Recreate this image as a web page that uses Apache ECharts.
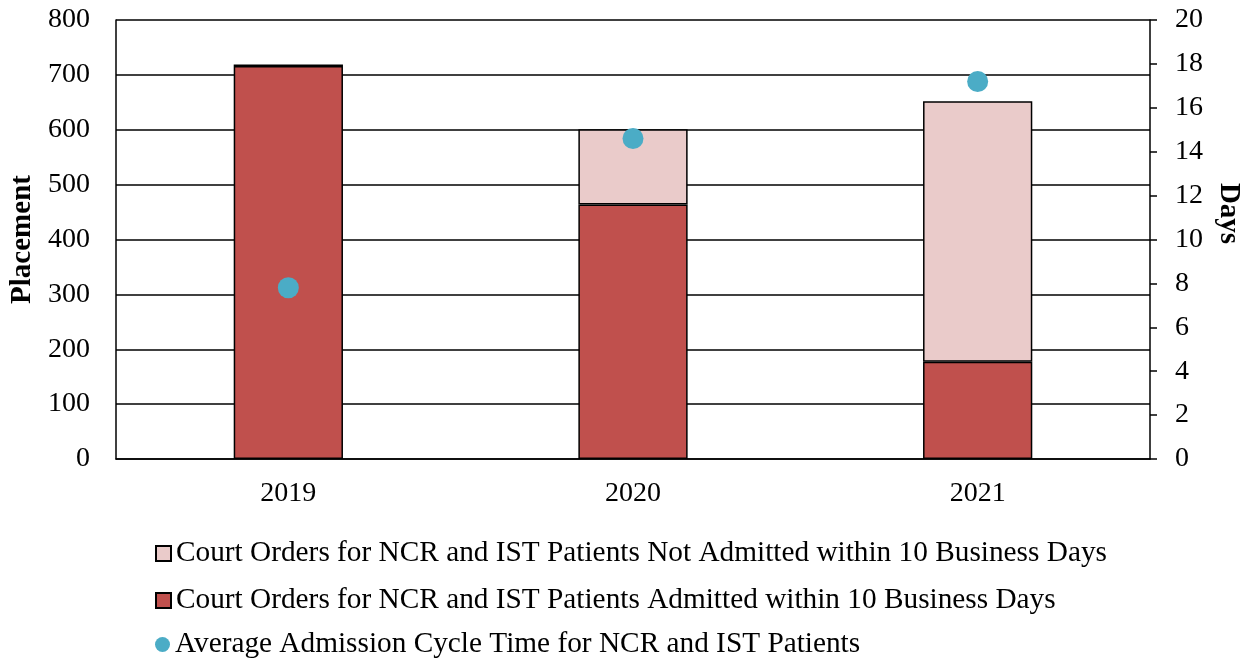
<!DOCTYPE html>
<html>
<head>
<meta charset="utf-8">
<script src="https://cdn.jsdelivr.net/npm/echarts@6/dist/echarts.min.js"></script>
<style>
  html, body { margin: 0; padding: 0; background: #fff; }
  #chart { width: 1246px; height: 658px; }
</style>
</head>
<body>
<div id="chart"></div>
<script>
// values
const years = ['2019', '2020', '2021']
const admitted = [716, 464, 177]
const notAdmitted = [3, 137, 475]
const cycleDays = [7.8, 14.6, 17.2]

const nameNot = 'Court Orders for NCR and IST Patients Not Admitted within 10 Business Days'
const nameAdm = 'Court Orders for NCR and IST Patients Admitted within 10 Business Days'
const nameAvg = 'Average Admission Cycle Time for NCR and IST Patients'

const font = 'Liberation Serif, Times New Roman, serif'
const chart = echarts.init(document.getElementById('chart'))

// one legend per row, so they stack like the original
const legendRow = (name, icon, top) => ({
  left: 155,
  top: top,
  padding: 0,
  itemWidth: 15,
  itemHeight: 15,
  data: [{ name: name, icon: icon }],
  textStyle: { fontFamily: font, fontSize: 29.3, color: '#000' }
})

chart.setOption({
  animation: false,
  textStyle: { fontFamily: font, color: '#000' },
  grid: { left: 116, right: 96, top: 20, bottom: 199, outerBoundsMode: 'none' },
  legend: [
    legendRow(nameNot, 'rect', 539),
    legendRow(nameAdm, 'rect', 586),
    legendRow(nameAvg, 'circle', 630)
  ],
  xAxis: {
    type: 'category',
    data: years,
    axisLine: { lineStyle: { color: '#000', width: 1.5 } },
    axisTick: { show: false },
    axisLabel: { fontFamily: font, fontSize: 28, color: '#000', margin: 21 }
  },
  yAxis: [
    {
      type: 'value',
      min: 0, max: 800, interval: 100,
      name: 'Placement',
      nameLocation: 'middle',
      nameGap: 78,
      nameTextStyle: { fontFamily: font, fontSize: 29, fontWeight: 'bold', color: '#000' },
      axisLine: { show: true, lineStyle: { color: '#000', width: 1.5 } },
      axisTick: { show: false },
      axisLabel: { fontFamily: font, fontSize: 28, color: '#000', margin: 26 },
      splitLine: { lineStyle: { color: '#000', width: 1.5 } }
    },
    {
      type: 'value',
      min: 0, max: 20, interval: 2,
      name: 'Days',
      nameLocation: 'middle',
      nameRotate: -90,
      nameGap: 62,
      nameTextStyle: { fontFamily: font, fontSize: 29, fontWeight: 'bold', color: '#000', padding: [0, 52, 0, 0] },
      axisLine: { show: true, lineStyle: { color: '#000', width: 1.5 } },
      axisTick: { show: true, inside: false, length: 7, lineStyle: { color: '#000', width: 1.5 } },
      axisLabel: { fontFamily: font, fontSize: 28, color: '#000', margin: 25 },
      splitLine: { show: false }
    }
  ],
  series: [
    {
      name: nameAdm,
      type: 'bar',
      stack: 'orders',
      barWidth: '31.7%',
      data: admitted,
      itemStyle: { color: '#C0504D', borderColor: '#000', borderWidth: 1.5 }
    },
    {
      name: nameNot,
      type: 'bar',
      stack: 'orders',
      data: notAdmitted,
      itemStyle: { color: '#EACBCA', borderColor: '#000', borderWidth: 1.5 }
    },
    {
      name: nameAvg,
      type: 'scatter',
      yAxisIndex: 1,
      symbolSize: 21,
      data: cycleDays,
      itemStyle: { color: '#4BACC6', opacity: 1 }
    }
  ]
})
</script>
</body>
</html>
